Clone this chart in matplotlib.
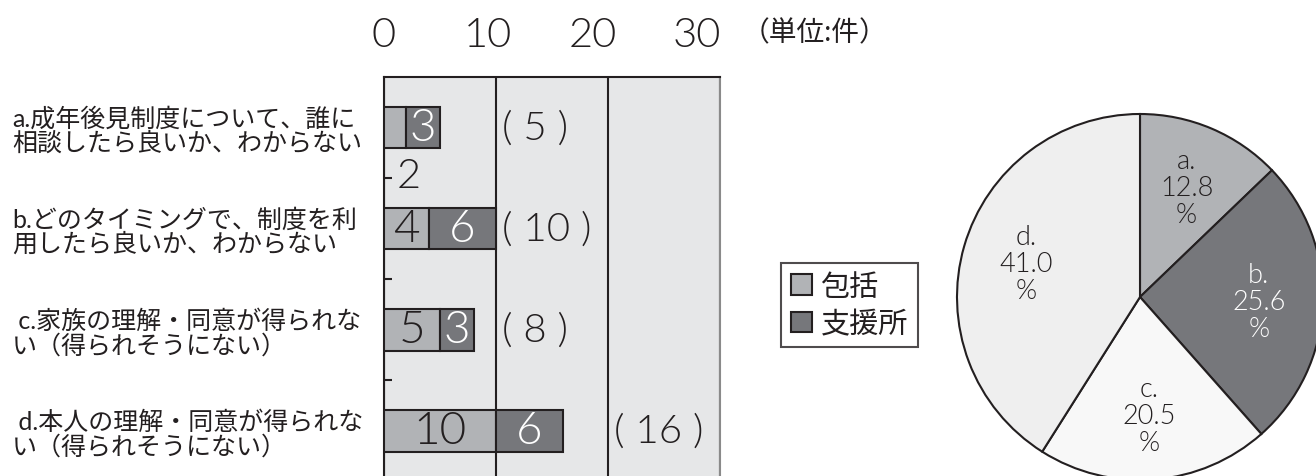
import math
import matplotlib
matplotlib.use('Agg')
import matplotlib.pyplot as plt
from matplotlib.patches import Patch
from matplotlib.transforms import ScaledTranslation

plt.rcParams['font.family'] = ['Lato', 'Noto Sans CJK JP', 'DejaVu Sans']

# データ
categories = ['a', 'b', 'c', 'd']
category_labels = [
    'a.成年後見制度について、誰に\n相談したら良いか、わからない',
    'b.どのタイミングで、制度を利\n用したら良いか、わからない',
    ' c.家族の理解・同意が得られな\nい（得られそうにない）',
    ' d.本人の理解・同意が得られな\nい（得られそうにない）',
]
hokatsu = [2, 4, 5, 10]
shienjo = [3, 6, 3, 6]
series_names = ['包括', '支援所']
x_ticks = [0, 10, 20, 30]
unit_label = '（単位:件）'

# 色
LIGHT = '#b1b3b6'
DARK = '#76777b'
INK = '#231f20'
BG = '#e6e7e8'
PIE_COLORS = [LIGHT, DARK, '#f8f8f8', '#efefef']
NUM_WEIGHT = 300

totals = [h + s for h, s in zip(hokatsu, shienjo)]

W, H = 1316, 477
fig = plt.figure(figsize=(W / 100, H / 100), dpi=100)

# 横棒グラフ
ax = fig.add_axes([384 / W, -5.5 / H, 336 / W, 404.5 / H])
ax.set_facecolor(BG)
y = list(range(len(categories)))
ax.barh(y, hokatsu, height=0.41, color=LIGHT, edgecolor=INK, linewidth=1.5, zorder=3)
ax.barh(y, shienjo, left=hokatsu, height=0.41, color=DARK, edgecolor=INK, linewidth=1.5, zorder=3)

ax.set_xlim(0, 30)
ax.set_ylim(len(categories) - 0.5, -0.5)
ax.grid(axis='x', color=INK, linewidth=1.5, zorder=2)
ax.grid(axis='y', visible=False)
for side in ['top', 'left']:
    ax.spines[side].set_color(INK)
    ax.spines[side].set_linewidth(1.5)
ax.spines['right'].set_color('#8a8a8a')
ax.spines['right'].set_linewidth(1.5)
ax.spines['bottom'].set_visible(False)

ax.xaxis.tick_top()
ax.set_xticks(x_ticks)
ax.tick_params(axis='x', length=0, pad=17, labelsize=30, labelcolor=INK)
for v, lab in zip(x_ticks, ax.get_xticklabels()):
    lab.set_fontweight(NUM_WEIGHT)
    lab.set_transform(lab.get_transform() + ScaledTranslation(-0.0077 * v, 0, fig.dpi_scale_trans))

ax.set_yticks(y, labels=category_labels, ha='left', linespacing=1.05)
ax.tick_params(axis='y', which='major', length=0, pad=268, labelsize=18, labelcolor=INK)
ax.set_yticks([i + 0.5 for i in y[:-1]], minor=True)
ax.tick_params(axis='y', which='minor', direction='in', length=6, width=1.5, color=INK)

num = dict(ha='center', va='center', zorder=4, fontweight=NUM_WEIGHT)
for i in y:
    h, s, t = hokatsu[i], shienjo[i], totals[i]
    if h >= 3:
        ax.text(h / 2, i, str(h), size=33, color=INK, **num)
    else:
        ax.text(h + 0.2, i + 0.47, str(h), size=30, color=INK, **num)
    ax.text(h + s / 2, i, str(s), size=33, color='white', **num)
    ax.text(math.ceil(t / 10) * 10 + 0.5, i, f'( {t} )', ha='left', va='center', size=29,
            color=INK, zorder=4, fontweight=NUM_WEIGHT)

fig.text(742 / W, 1 - 33 / H, unit_label, ha='left', va='center', size=20, color=INK)

# 凡例
handles = [Patch(facecolor=c, edgecolor=INK, linewidth=1.5, label=n) for c, n in zip([LIGHT, DARK], series_names)]
leg = fig.legend(handles=handles, loc='center', bbox_to_anchor=(849.5 / W, 1 - 306 / H),
                 frameon=True, fancybox=False, edgecolor=INK, fontsize=21,
                 handlelength=0.7, handleheight=0.7, handletextpad=0.3,
                 labelspacing=0.35, borderpad=0.35, borderaxespad=0)
leg.get_frame().set_linewidth(1.5)
for txt in leg.get_texts():
    txt.set_color(INK)

# 円グラフ
pax = fig.add_axes([(1140 - 183) / W, (477 - 298 - 183) / H, 366 / W, 366 / H])
pct = [t / sum(totals) * 100 for t in totals]
pie_labels = [f'{c}.\n{p:.1f}\n%' for c, p in zip(categories, pct)]
wedges, texts = pax.pie(totals, colors=PIE_COLORS, startangle=90, counterclock=False,
                        labels=pie_labels, labeldistance=0.65,
                        wedgeprops=dict(edgecolor=INK, linewidth=1.5),
                        textprops=dict(size=19.5, color=INK, linespacing=1.1, fontweight=NUM_WEIGHT))
for w in wedges:
    w.set_clip_on(False)
for t in texts:
    t.set_ha('center')
    t.set_va('center')
texts[1].set_color('white')
pax.set_xlim(-1, 1)
pax.set_ylim(-1, 1)
pax.set_aspect('equal')

fig.savefig('out.png', dpi=100)
